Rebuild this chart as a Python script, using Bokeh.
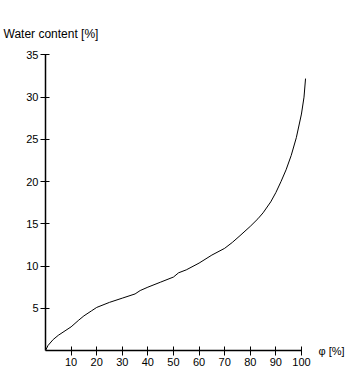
from bokeh.plotting import figure
from bokeh.models import Range1d, FixedTicker, LinearAxis
from bokeh.embed import file_html
from bokeh.resources import INLINE

# data
phi = [0, 1, 3, 5, 8, 10, 13, 15, 18, 20, 25, 30, 35, 37, 40, 45, 50, 52, 55,
       60, 65, 70, 73, 76, 80, 83, 85, 88, 90, 92, 94, 96, 98, 100, 101, 101.6]
water = [0, 0.6, 1.3, 1.8, 2.4, 2.8, 3.6, 4.1, 4.7, 5.1, 5.7, 6.2, 6.7, 7.1, 7.5,
         8.1, 8.7, 9.2, 9.55, 10.35, 11.3, 12.1, 12.8, 13.6, 14.7, 15.6, 16.3, 17.6, 18.7,
         20.0, 21.4, 23.1, 25.2, 28.0, 30.0, 32.2]
x_ticks = [10, 20, 30, 40, 50, 60, 70, 80, 90, 100]
y_ticks = [5, 10, 15, 20, 25, 30, 35]
y_title = "Water content [%]"
x_title = "φ [%]"

p = figure(width=351, height=389, output_backend="svg", toolbar_location=None,
           x_range=Range1d(0, 105.1), y_range=Range1d(0, 36),
           min_border_left=45, min_border_right=37, min_border_top=46,
           min_border_bottom=39)
p.outline_line_color = None
p.grid.visible = False
p.background_fill_color = "white"

p.title.text = y_title
p.title.align = "left"
p.title.offset = -42
p.title.standoff = 12
p.title.text_font = "Liberation Sans"
p.title.text_font_size = "12px"
p.title.text_font_style = "normal"
p.title.text_color = "black"

p.line(phi, water, line_color="black", line_width=1)

for ax, ticks, bnds in ((p.xaxis[0], x_ticks, (0, 100)), (p.yaxis[0], y_ticks, (0, 35))):
    ax.ticker = FixedTicker(ticks=ticks)
    ax.bounds = bnds
    ax.axis_line_color = "black"
    ax.axis_line_width = 1.5
    ax.major_tick_line_color = "black"
    ax.major_tick_line_width = 1
    ax.major_tick_in = 4
    ax.major_tick_out = 5
    ax.minor_tick_line_color = None
    ax.major_label_text_font = "Liberation Sans"
    ax.major_label_text_font_size = "11px"
    ax.major_label_text_color = "black"
    ax.major_label_standoff = 2

rax = LinearAxis(ticker=FixedTicker(ticks=[0]), major_label_overrides={0: x_title},
                 axis_line_color=None, major_tick_line_color=None,
                 minor_tick_line_color=None, major_tick_in=0, major_tick_out=0,
                 major_label_standoff=4, major_label_text_font="Liberation Sans",
                 major_label_text_font_size="11px", major_label_text_color="black")
p.add_layout(rax, "right")

open("out.html", "w").write(file_html(p, INLINE))
